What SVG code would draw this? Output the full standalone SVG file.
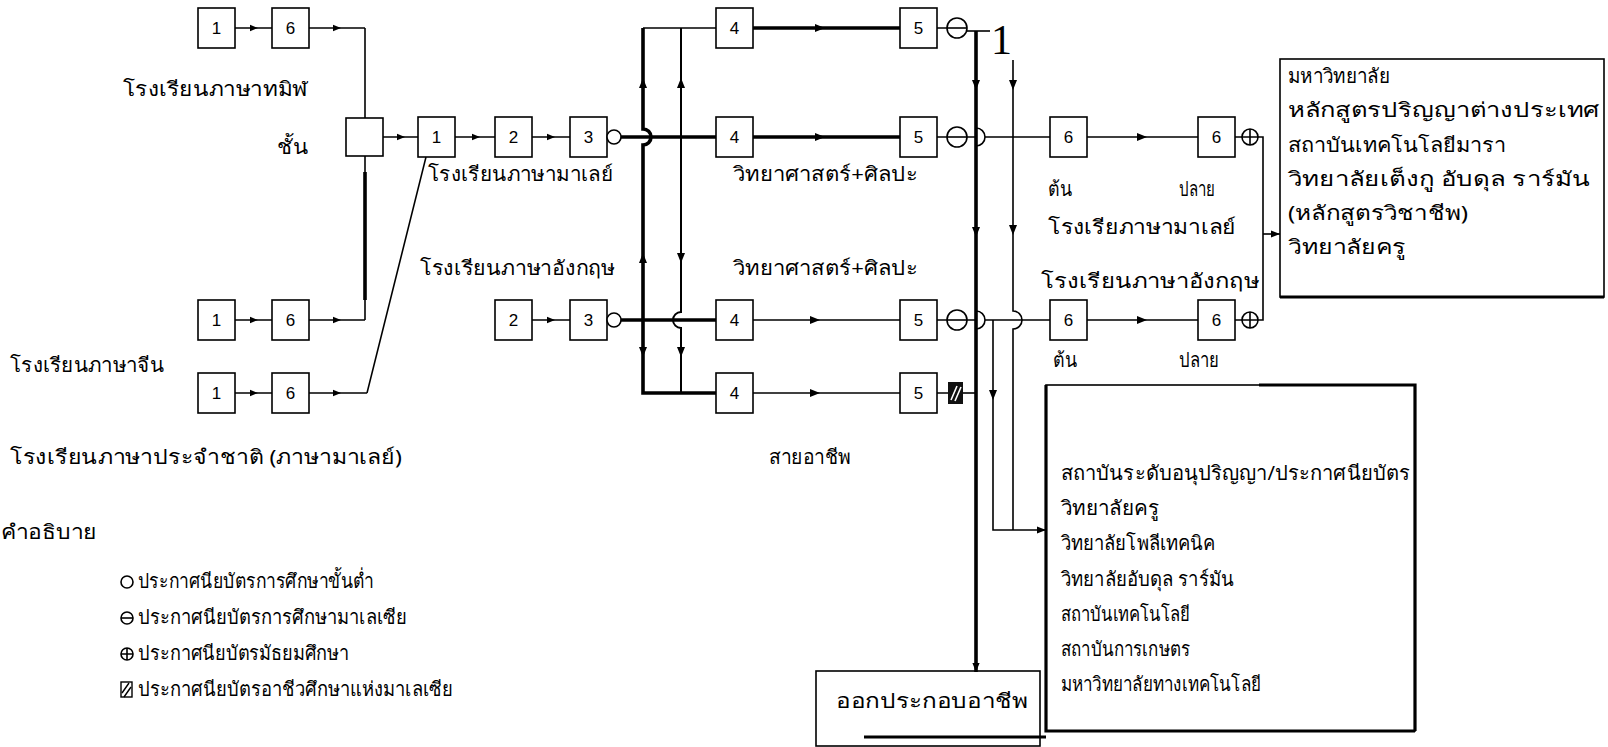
<svg xmlns="http://www.w3.org/2000/svg" xmlns:xlink="http://www.w3.org/1999/xlink" width="1608" height="747" viewBox="0 0 1608 747">
<style>
.box{fill:#fff;stroke:#000;stroke-width:1.6}
.num{font-family:"Liberation Sans",Arial,sans-serif;font-size:17px;text-anchor:middle;fill:#000}
.th{font-family:"Noto Sans","DejaVu Sans",sans-serif;font-size:20px;fill:#000}
.ln{fill:none;stroke:#000;stroke-width:1.6}
.tk{fill:none;stroke:#000;stroke-width:3.6}
.md{marker-mid:url(#am)}
.sym{fill:#fff;stroke:#000;stroke-width:1.6}
</style>
<defs>
<marker id="am" viewBox="0 0 10 10" refX="5" refY="5" markerWidth="9" markerHeight="8" markerUnits="userSpaceOnUse" orient="auto"><path d="M0,1 L10,5 L0,9 z" fill="#000"/></marker>
<marker id="ae" viewBox="0 0 10 10" refX="10" refY="5" markerWidth="10" markerHeight="9" markerUnits="userSpaceOnUse" orient="auto"><path d="M0,1 L10,5 L0,9 z" fill="#000"/></marker>
<path id="tri" d="M-5,-4 L5,0 L-5,4 z" fill="#000"/>
</defs>
<rect width="1608" height="747" fill="#fff"/>

<g id="connectors">
<path class="ln md" d="M235 28 L254 28 L272 28"/>
<path class="ln md" d="M309 28 L337 28 L365 28"/>
<path class="ln" d="M365 28 V118"/>
<path class="ln md" d="M383 137 L401 137 L418 137"/>
<path class="ln" d="M365 156 V320"/>
<path class="tk" d="M365 172 V300"/>
<path class="ln md" d="M235 320 L254 320 L272 320"/>
<path class="ln md" d="M309 320 L337 320 L365 320"/>
<path class="ln md" d="M235 393 L254 393 L272 393"/>
<path class="ln md" d="M309 393 L337 393 L367 393"/>
<path class="ln" d="M367 393 L426 157"/>
<path class="ln md" d="M455 137 L476 137 L495 137"/>
<path class="ln md" d="M532 137 L551 137 L570 137"/>
<path class="tk" d="M621 137 H716"/>
<path class="ln md" d="M532 320 L551 320 L570 320"/>
<path class="tk" d="M621 320 H716"/>
<path class="tk" d="M643 28 V129 A8 8 0 0 1 643 145 V393 H716"/>
<path class="ln" style="stroke-width:2" d="M681 28 V312 A8 8 0 0 0 681 328 V393"/>
<path class="ln" d="M643 28 H716"/>
<use xlink:href="#tri" transform="translate(643,83) rotate(-90)"/>
<use xlink:href="#tri" transform="translate(643,258) rotate(-90)"/>
<use xlink:href="#tri" transform="translate(643,352) rotate(90)"/>
<use xlink:href="#tri" transform="translate(681,83) rotate(-90)"/>
<use xlink:href="#tri" transform="translate(681,258) rotate(90)"/>
<use xlink:href="#tri" transform="translate(681,352) rotate(90)"/>
<path class="tk" d="M753 28 H900"/>
<path class="tk" d="M753 137 H900"/>
<path class="ln" d="M753 320 H900"/>
<path class="ln" d="M753 393 H900"/>
<use xlink:href="#tri" transform="translate(820,28)"/>
<use xlink:href="#tri" transform="translate(820,137)"/>
<use xlink:href="#tri" transform="translate(815,320)"/>
<use xlink:href="#tri" transform="translate(815,393)"/>
<path class="ln" d="M937 28 H947 M937 137 H947 M937 320 H947 M937 393 H948"/>
<path class="ln" d="M967 31 H990"/>
<path class="tk" d="M976 31 V672" marker-end="url(#ae)"/>
<use xlink:href="#tri" transform="translate(976,85) rotate(90)"/>
<use xlink:href="#tri" transform="translate(976,232) rotate(90)"/>
<path class="ln" d="M967 137 H976 M985 137 H1050 M976 128 A9 9 0 0 1 976 146"/>
<path class="ln" d="M967 320 H976 M985 320 H1050 M976 311 A9 9 0 0 1 976 329"/>
<path class="ln" d="M1013 60 V311 A9 9 0 0 1 1013 329 V530"/>
<use xlink:href="#tri" transform="translate(1013,85) rotate(90)"/>
<use xlink:href="#tri" transform="translate(1013,230) rotate(90)"/>
<path class="ln" d="M993 320 V530 H1046" marker-end="url(#ae)"/>
<use xlink:href="#tri" transform="translate(993,395) rotate(90)"/>
<path class="ln" d="M963 393 H976"/>
<path class="ln" d="M1087 137 H1198 M1087 320 H1198"/>
<use xlink:href="#tri" transform="translate(1142,137)"/>
<use xlink:href="#tri" transform="translate(1142,320)"/>
<path class="ln" d="M1235 137 H1242 M1235 320 H1242"/>
<path class="ln" d="M1258 137 H1263 V320 H1258"/>
<path class="ln" d="M1263 234 H1280" marker-end="url(#ae)"/>
</g>

<g id="left-boxes">
<g id="t1"><rect class="box" x="198" y="8" width="37" height="40"/><text class="num" x="216.5" y="34">1</text></g>
<g id="t6"><rect class="box" x="272" y="8" width="37" height="40"/><text class="num" x="290.5" y="34">6</text></g>
<g id="ca1"><rect class="box" x="198" y="300" width="37" height="40"/><text class="num" x="216.5" y="326">1</text></g>
<g id="ca6"><rect class="box" x="272" y="300" width="37" height="40"/><text class="num" x="290.5" y="326">6</text></g>
<g id="cb1"><rect class="box" x="198" y="373" width="37" height="40"/><text class="num" x="216.5" y="399">1</text></g>
<g id="cb6"><rect class="box" x="272" y="373" width="37" height="40"/><text class="num" x="290.5" y="399">6</text></g>
<g id="remove"><rect class="box" x="346" y="118" width="37" height="38"/></g>
<g id="m1"><rect class="box" x="418" y="117" width="37" height="40"/><text class="num" x="436.5" y="143">1</text></g>
<g id="m2"><rect class="box" x="495" y="117" width="37" height="40"/><text class="num" x="513.5" y="143">2</text></g>
<g id="m3"><rect class="box" x="570" y="117" width="37" height="40"/><text class="num" x="588.5" y="143">3</text></g>
<g id="e2"><rect class="box" x="495" y="300" width="37" height="40"/><text class="num" x="513.5" y="326">2</text></g>
<g id="e3"><rect class="box" x="570" y="300" width="37" height="40"/><text class="num" x="588.5" y="326">3</text></g>
<circle class="sym" cx="614" cy="137" r="7"/>
<circle class="sym" cx="614" cy="320" r="7"/>
</g>

<g id="mid-boxes">
<g id="r4a"><rect class="box" x="716" y="8" width="37" height="40"/><text class="num" x="734.5" y="34">4</text></g>
<g id="r5a"><rect class="box" x="900" y="8" width="37" height="40"/><text class="num" x="918.5" y="34">5</text></g>
<g id="r4b"><rect class="box" x="716" y="117" width="37" height="40"/><text class="num" x="734.5" y="143">4</text></g>
<g id="r5b"><rect class="box" x="900" y="117" width="37" height="40"/><text class="num" x="918.5" y="143">5</text></g>
<g id="r4c"><rect class="box" x="716" y="300" width="37" height="40"/><text class="num" x="734.5" y="326">4</text></g>
<g id="r5c"><rect class="box" x="900" y="300" width="37" height="40"/><text class="num" x="918.5" y="326">5</text></g>
<g id="r4d"><rect class="box" x="716" y="373" width="37" height="40"/><text class="num" x="734.5" y="399">4</text></g>
<g id="r5d"><rect class="box" x="900" y="373" width="37" height="40"/><text class="num" x="918.5" y="399">5</text></g>
<g id="cert"><circle class="sym" cx="957" cy="28" r="10"/><path class="ln" d="M947 28 H967"/>
<circle class="sym" cx="957" cy="137" r="10"/><path class="ln" d="M947 137 H967"/>
<circle class="sym" cx="957" cy="320" r="10"/><path class="ln" d="M947 320 H967"/>
<rect x="948" y="382" width="15" height="22" fill="#111"/><path d="M951 400 L957 386 M955 401 L961 387" stroke="#fff" stroke-width="1.6"/></g>
<text x="991" y="54" style="font-family:'Liberation Serif',serif;font-size:42px">1</text>
</g>

<g id="right-boxes">
<g id="s6a"><rect class="box" x="1050" y="117" width="37" height="40"/><text class="num" x="1068.5" y="143">6</text></g>
<g id="s6b"><rect class="box" x="1198" y="117" width="37" height="40"/><text class="num" x="1216.5" y="143">6</text></g>
<g id="s6c"><rect class="box" x="1050" y="300" width="37" height="40"/><text class="num" x="1068.5" y="326">6</text></g>
<g id="s6d"><rect class="box" x="1198" y="300" width="37" height="40"/><text class="num" x="1216.5" y="326">6</text></g>
<g id="plus"><circle class="sym" cx="1250" cy="137" r="8"/><path class="ln" d="M1242 137 H1258 M1250 129 V145"/>
<circle class="sym" cx="1250" cy="320" r="8"/><path class="ln" d="M1242 320 H1258 M1250 312 V328"/></g>
</g>

<g id="univ">
<rect x="1280" y="59" width="324" height="238" fill="none" stroke="#000" stroke-width="1.6"/>
<path d="M1280 297 H1604" stroke="#000" stroke-width="3.2"/>
<text class="th" x="1288" y="83" textLength="102" lengthAdjust="spacingAndGlyphs">มหาวิทยาลัย</text>
<text class="th" x="1288" y="117" textLength="312" lengthAdjust="spacingAndGlyphs">หลักสูตรปริญญาต่างประเทศ</text>
<text class="th" x="1288" y="152" textLength="218" lengthAdjust="spacingAndGlyphs">สถาบันเทคโนโลยีมารา</text>
<text class="th" x="1288" y="186" textLength="302" lengthAdjust="spacingAndGlyphs">วิทยาลัยเต็งกู อับดุล ราร์มัน</text>
<text class="th" x="1288" y="220" textLength="180" lengthAdjust="spacingAndGlyphs">(หลักสูตรวิชาชีพ)</text>
<text class="th" x="1288" y="254" textLength="118" lengthAdjust="spacingAndGlyphs">วิทยาลัยครู</text>
</g>

<g id="diploma">
<rect x="1046" y="385" width="369" height="346" fill="none" stroke="#000" stroke-width="1.6"/>
<path d="M1046 385 V731 H1415 M1259 385 H1415 V731" fill="none" stroke="#000" stroke-width="3.2"/>
<text class="th" x="1061" y="480" textLength="349" lengthAdjust="spacingAndGlyphs">สถาบันระดับอนุปริญญา/ประกาศนียบัตร</text>
<text class="th" x="1061" y="515" textLength="98" lengthAdjust="spacingAndGlyphs">วิทยาลัยครู</text>
<text class="th" x="1061" y="550" textLength="154" lengthAdjust="spacingAndGlyphs">วิทยาลัยโพลีเทคนิค</text>
<text class="th" x="1061" y="586" textLength="173" lengthAdjust="spacingAndGlyphs">วิทยาลัยอับดุล ราร์มัน</text>
<text class="th" x="1061" y="621" textLength="129" lengthAdjust="spacingAndGlyphs">สถาบันเทคโนโลยี</text>
<text class="th" x="1061" y="656" textLength="129" lengthAdjust="spacingAndGlyphs">สถาบันการเกษตร</text>
<text class="th" x="1061" y="691" textLength="200" lengthAdjust="spacingAndGlyphs">มหาวิทยาลัยทางเทคโนโลยี</text>
</g>

<g id="work">
<rect x="816" y="671" width="224" height="75" fill="none" stroke="#000" stroke-width="1.6"/>
<path d="M864 737 H1046" stroke="#000" stroke-width="3"/>
<text class="th" x="836" y="708" textLength="192" lengthAdjust="spacingAndGlyphs">ออกประกอบอาชีพ</text>
</g>

<g id="labels">
<text class="th" x="123" y="96" textLength="185" lengthAdjust="spacingAndGlyphs">โรงเรียนภาษาทมิฬ</text>
<text class="th" x="277" y="154" textLength="31" lengthAdjust="spacingAndGlyphs">ชั้น</text>
<text class="th" x="428" y="181" textLength="185" lengthAdjust="spacingAndGlyphs">โรงเรียนภาษามาเลย์</text>
<text class="th" x="733" y="181" textLength="185" lengthAdjust="spacingAndGlyphs">วิทยาศาสตร์+ศิลปะ</text>
<text class="th" x="420" y="275" textLength="195" lengthAdjust="spacingAndGlyphs">โรงเรียนภาษาอังกฤษ</text>
<text class="th" x="733" y="275" textLength="185" lengthAdjust="spacingAndGlyphs">วิทยาศาสตร์+ศิลปะ</text>
<text class="th" x="10" y="372" textLength="154" lengthAdjust="spacingAndGlyphs">โรงเรียนภาษาจีน</text>
<text class="th" x="10" y="464" textLength="392" lengthAdjust="spacingAndGlyphs">โรงเรียนภาษาประจำชาติ (ภาษามาเลย์)</text>
<text class="th" x="769" y="464" textLength="82" lengthAdjust="spacingAndGlyphs">สายอาชีพ</text>
<text class="th" x="1048" y="196" textLength="24" lengthAdjust="spacingAndGlyphs">ต้น</text>
<text class="th" x="1179" y="196" textLength="36" lengthAdjust="spacingAndGlyphs">ปลาย</text>
<text class="th" x="1048" y="234" textLength="188" lengthAdjust="spacingAndGlyphs">โรงเรียภาษามาเลย์</text>
<text class="th" x="1041" y="288" textLength="218" lengthAdjust="spacingAndGlyphs">โรงเรียนภาษาอังกฤษ</text>
<text class="th" x="1053" y="367" textLength="24" lengthAdjust="spacingAndGlyphs">ต้น</text>
<text class="th" x="1179" y="367" textLength="40" lengthAdjust="spacingAndGlyphs">ปลาย</text>
</g>

<g id="legend">
<text class="th" x="1" y="539" textLength="96" lengthAdjust="spacingAndGlyphs">คำอธิบาย</text>
<circle class="sym" cx="127" cy="582" r="6"/>
<text class="th" x="138" y="588" textLength="236" lengthAdjust="spacingAndGlyphs">ประกาศนียบัตรการศึกษาขั้นต่ำ</text>
<circle class="sym" cx="127" cy="618" r="6"/><path class="ln" d="M121 618 H133"/>
<text class="th" x="138" y="624" textLength="269" lengthAdjust="spacingAndGlyphs">ประกาศนียบัตรการศึกษามาเลเซีย</text>
<circle class="sym" cx="127" cy="654" r="6"/><path class="ln" d="M121 654 H133 M127 648 V660"/>
<text class="th" x="138" y="660" textLength="211" lengthAdjust="spacingAndGlyphs">ประกาศนียบัตรมัธยมศึกษา</text>
<rect x="121" y="682" width="11" height="15" fill="#fff" stroke="#000" stroke-width="1.4"/><path d="M122 693 L129 683 M124 697 L131 687" stroke="#000" stroke-width="1.4"/>
<text class="th" x="138" y="696" textLength="315" lengthAdjust="spacingAndGlyphs">ประกาศนียบัตรอาชีวศึกษาแห่งมาเลเซีย</text>
</g>
</svg>
